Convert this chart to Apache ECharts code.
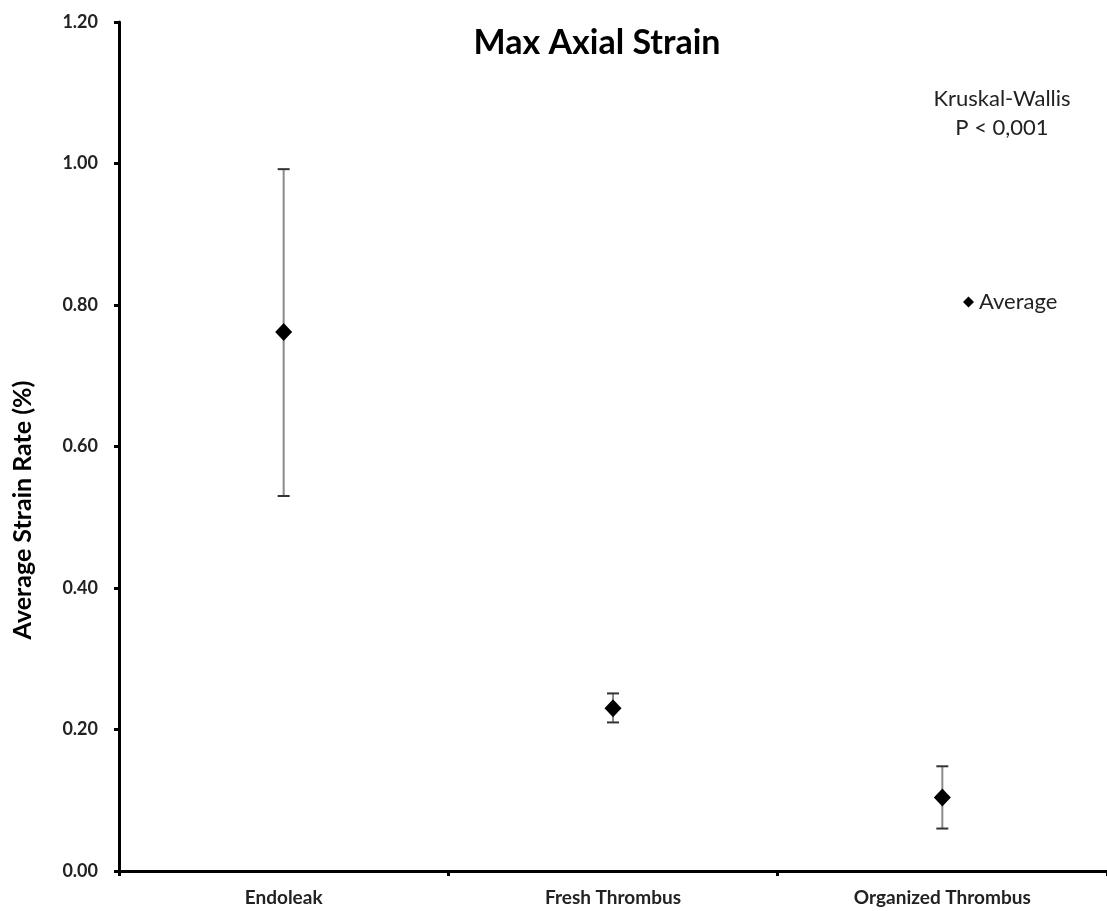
<!DOCTYPE html>
<html>
<head>
<meta charset="utf-8">
<script src="https://cdn.jsdelivr.net/npm/echarts@6/dist/echarts.min.js"></script>
<style>html,body{margin:0;padding:0;background:#fff;}#c{width:1107px;height:911px;}</style>
</head>
<body>
<div id="c"></div>
<script>
const categories = ['Endoleak', 'Fresh Thrombus', 'Organized Thrombus'];
const averages = [0.762, 0.230, 0.104];
const lowerBounds = [0.530, 0.210, 0.060];
const upperBounds = [0.992, 0.251, 0.148];
const yTicks = [0, 0.2, 0.4, 0.6, 0.8, 1.0, 1.2];

const font = 'Lato, "Open Sans", sans-serif';
const chart = echarts.init(document.getElementById('c'), null, {renderer: 'canvas'});

const errData = categories.map((c, i) => [i, lowerBounds[i], upperBounds[i]]);

chart.setOption({
  animation: false,
  backgroundColor: '#fff',
  grid: {left: 119, top: 22, width: 989, bottom: 40, containLabel: false},
  legend: {
    data: [{name: 'Average', icon: 'diamond', itemStyle: {color: '#000', opacity: 1}}],
    left: 958, top: 286,
    itemWidth: 11, itemHeight: 11, itemGap: 7,
    textStyle: {fontFamily: font, fontSize: 22, color: '#222'}
  },
  xAxis: {
    type: 'category',
    data: categories,
    boundaryGap: true,
    axisLine: {lineStyle: {color: '#000', width: 3}},
    axisTick: {show: true, interval: 0, length: 5, lineStyle: {color: '#000', width: 3}},
    axisLabel: {fontFamily: font, fontWeight: 'bold', fontSize: 19, color: '#222', margin: 17, interval: 0},
    splitLine: {show: false}
  },
  yAxis: {
    type: 'value',
    min: yTicks[0], max: yTicks[yTicks.length - 1], interval: 0.2,
    axisLine: {show: true, lineStyle: {color: '#000', width: 3}},
    axisTick: {show: true, length: 5, lineStyle: {color: '#000', width: 3}},
    axisLabel: {fontFamily: font, fontWeight: 'bold', fontSize: 18, color: '#222', margin: 21,
      formatter: v => v.toFixed(2)},
    splitLine: {show: false}
  },
  graphic: [
    {type: 'text', x: 597, y: 43, style: {text: 'Max Axial Strain', textAlign: 'center', textVerticalAlign: 'middle',
      font: 'bold 34px ' + font, fill: '#000'}},
    {type: 'text', x: 1002, y: 99, style: {text: 'Kruskal-Wallis', textAlign: 'center', textVerticalAlign: 'middle',
      font: '22px ' + font, fill: '#222'}},
    {type: 'text', x: 1002, y: 128, style: {text: 'P < 0,001', textAlign: 'center', textVerticalAlign: 'middle',
      font: '22px ' + font, fill: '#222'}},
    {type: 'text', x: 23, y: 510, rotation: Math.PI / 2,
      style: {text: 'Average Strain Rate (%)', textAlign: 'center', textVerticalAlign: 'middle',
      font: 'bold 25px ' + font, fill: '#000'}}
  ],
  series: [
    {
      type: 'custom',
      name: 'error',
      data: errData,
      z: 2,
      renderItem: function (params, api) {
        const x = api.value(0);
        const lo = api.coord([x, api.value(1)]);
        const hi = api.coord([x, api.value(2)]);
        const hw = 6;
        return {
          type: 'group',
          children: [
            {type: 'line', shape: {x1: lo[0], y1: lo[1], x2: hi[0], y2: hi[1]},
              style: {stroke: '#8a8a8a', lineWidth: 2}},
            {type: 'line', shape: {x1: hi[0] - hw, y1: hi[1], x2: hi[0] + hw, y2: hi[1]},
              style: {stroke: '#333', lineWidth: 2}},
            {type: 'line', shape: {x1: lo[0] - hw, y1: lo[1], x2: lo[0] + hw, y2: lo[1]},
              style: {stroke: '#333', lineWidth: 2}}
          ]
        };
      }
    },
    {
      type: 'scatter',
      name: 'Average',
      data: averages,
      symbol: 'diamond',
      symbolSize: [17, 18],
      itemStyle: {color: '#000', opacity: 1},
      z: 3
    }
  ]
});
</script>
</body>
</html>
